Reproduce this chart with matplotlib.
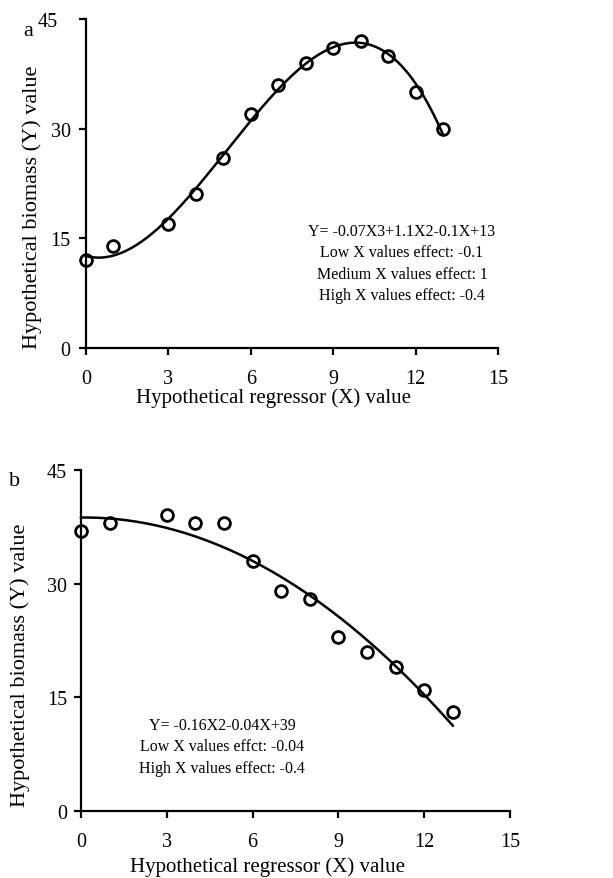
import numpy as np
import matplotlib
matplotlib.use("Agg")
import matplotlib.pyplot as plt
import matplotlib.transforms as mtrans

plt.rcParams['font.family'] = ['Liberation Serif', 'DejaVu Serif']

# Panel a data
xa = [0, 1, 3, 4, 5, 6, 7, 8, 9, 10, 11, 12, 13]
ya = [12, 14, 17, 21, 26, 32, 36, 39, 41, 42, 40, 35, 30]
# Panel b data
xb = [0, 1, 3, 4, 5, 6, 7, 8, 9, 10, 11, 12, 13]
yb = [37, 38, 39, 38, 38, 33, 29, 28, 23, 21, 19, 16, 13]

xticks = [0, 3, 6, 9, 12, 15]
yticks = [0, 15, 30, 45]

xlabel = "Hypothetical regressor (X) value"
ylabel = "Hypothetical biomass (Y) value"

text_a = ["Y= -0.07X3+1.1X2-0.1X+13",
          "Low X values effect: -0.1",
          "Medium X values effect: 1",
          "High X values effect: -0.4"]
text_b = ["Y= -0.16X2-0.04X+39",
          "Low X values effct: -0.04",
          "High X values effect: -0.4"]

W, H = 613, 879
fig = plt.figure(figsize=(W / 100, H / 100), dpi=100)


def px_axes(l, r, t, b):
    return fig.add_axes([l / W, 1 - b / H, (r - l) / W, (b - t) / H])


def ftext(x, y, s, **kw):
    return fig.text(x / W, 1 - y / H, s, **kw)


def style(ax, ypad):
    ax.set_xlim(0, 15)
    ax.set_ylim(0, 45)
    ax.set_xticks(xticks)
    ax.set_yticks(yticks)
    for s in ['top', 'right']:
        ax.spines[s].set_visible(False)
    for s in ['left', 'bottom']:
        ax.spines[s].set_linewidth(1.6)
        ax.spines[s].set_clip_on(False)
    ax.tick_params(axis='both', direction='out', length=5, width=1.6,
                   labelsize=14.5)
    ax.tick_params(axis='x', pad=10)
    ax.tick_params(axis='y', pad=ypad)


def panel(ax, x, y, deg, lines, tx, ty, letter, lx, ly,
          xl_pos, yl_pos, ypad):
    style(ax, ypad)
    coef = np.polyfit(x, y, deg)
    xs = np.linspace(min(x), max(x), 200)
    ax.plot(xs, np.polyval(coef, xs), color='black', lw=1.8, clip_on=False)
    ax.plot(x, y, 'o', mfc='none', mec='black', ms=8.5, mew=2.0,
            clip_on=False)
    for i, s in enumerate(lines):
        ftext(tx, ty + i * 21.3, s, ha='center', va='center', fontsize=11.5)
    ftext(lx, ly, letter, fontsize=16, ha='center', va='center')
    ftext(xl_pos[0], xl_pos[1], xlabel, fontsize=15, ha='center',
          va='center')
    ftext(yl_pos[0], yl_pos[1], ylabel, fontsize=16, ha='center',
          va='center', rotation=90)


ax1 = px_axes(86, 498, 20, 349)
panel(ax1, xa, ya, 3, text_a, 402, 232, 'a', 28, 31,
      (274, 398), (32, 207), 6)
# the top tick label of panel a sits further left in the reference
lab = ax1.get_yticklabels()[-1]
lab.set_transform(lab.get_transform() +
                  mtrans.ScaledTranslation(-13 / 100, 0, fig.dpi_scale_trans))

ax2 = px_axes(81, 510, 471, 812)
panel(ax2, xb, yb, 2, text_b, 222, 726, 'b', 15, 482,
      (267, 867), (20, 665), 5)

fig.savefig("out.png", dpi=100)
